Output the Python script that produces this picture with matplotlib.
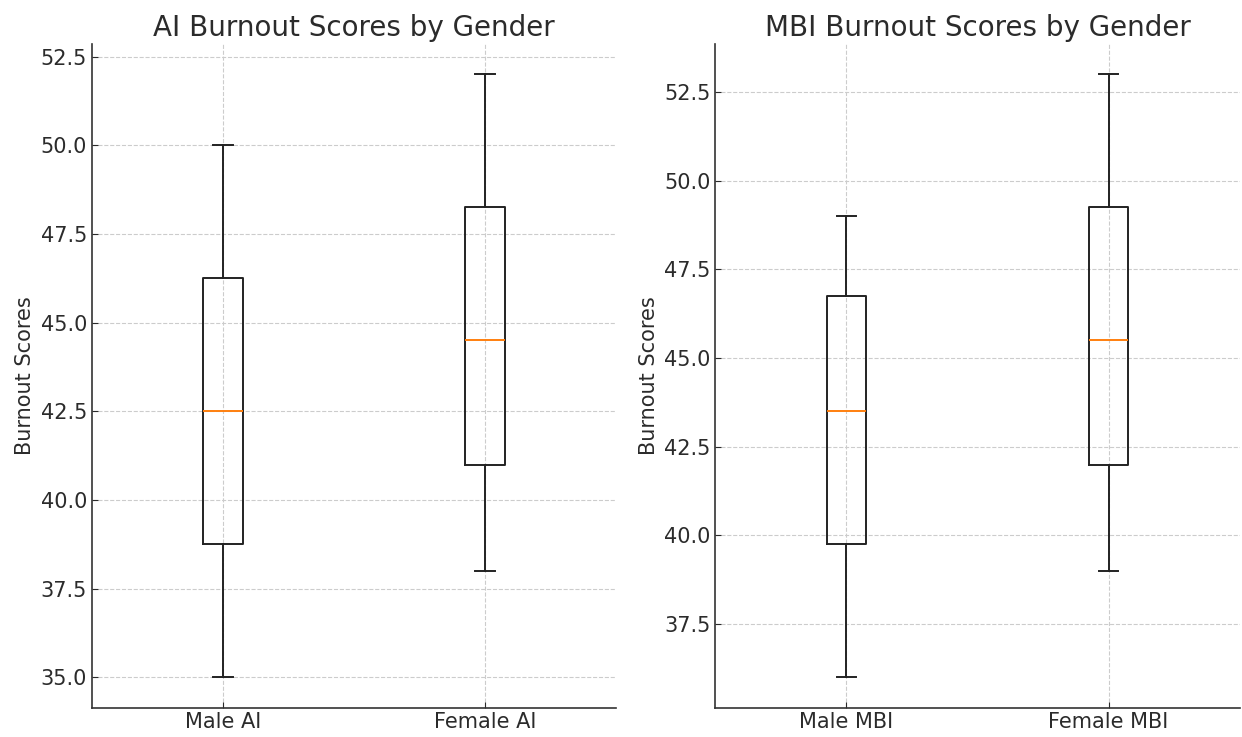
import matplotlib
matplotlib.use('Agg')
import matplotlib.pyplot as plt

# Five-number summaries for each group (whisker low, Q1, median, Q3, whisker high)
ai_labels = ['Male AI', 'Female AI']
ai_whislo = [35.0, 38.0]
ai_q1 = [38.75, 41.0]
ai_med = [42.5, 44.5]
ai_q3 = [46.25, 48.25]
ai_whishi = [50.0, 52.0]

mbi_labels = ['Male MBI', 'Female MBI']
mbi_whislo = [36.0, 39.0]
mbi_q1 = [39.75, 42.0]
mbi_med = [43.5, 45.5]
mbi_q3 = [46.75, 49.25]
mbi_whishi = [49.0, 53.0]

TEXT = '#2b2b2b'


def make_stats(labels, lo, q1, med, q3, hi):
    return [dict(label=l, whislo=a, q1=b, med=c, q3=d, whishi=e, fliers=[])
            for l, a, b, c, d, e in zip(labels, lo, q1, med, q3, hi)]


def draw_box(ax, stats, title):
    ax.bxp(stats, showfliers=False,
           boxprops=dict(color='#222222', linewidth=1.4),
           whiskerprops=dict(color='#222222', linewidth=1.4),
           capprops=dict(color='#222222', linewidth=1.4),
           medianprops=dict(color='#ff7f0e', linewidth=1.4))
    ax.set_title(title, fontsize=20, color=TEXT)
    ax.set_ylabel('Burnout Scores', fontsize=15, color=TEXT)
    ax.grid(True, linestyle='--', color='#cccccc', linewidth=0.8)
    ax.set_axisbelow(True)
    ax.tick_params(direction='in', labelsize=15, colors=TEXT, length=4)
    for s in ['top', 'right']:
        ax.spines[s].set_visible(False)
    for s in ['left', 'bottom']:
        ax.spines[s].set_color('#333333')
        ax.spines[s].set_linewidth(1.2)


fig, (ax1, ax2) = plt.subplots(1, 2, figsize=(12.42, 7.37), dpi=100)
draw_box(ax1, make_stats(ai_labels, ai_whislo, ai_q1, ai_med, ai_q3, ai_whishi),
         'AI Burnout Scores by Gender')
draw_box(ax2, make_stats(mbi_labels, mbi_whislo, mbi_q1, mbi_med, mbi_q3, mbi_whishi),
         'MBI Burnout Scores by Gender')
fig.subplots_adjust(left=0.074, right=0.998, bottom=0.04, top=0.94, wspace=0.19)
fig.savefig('out.png', dpi=100)
